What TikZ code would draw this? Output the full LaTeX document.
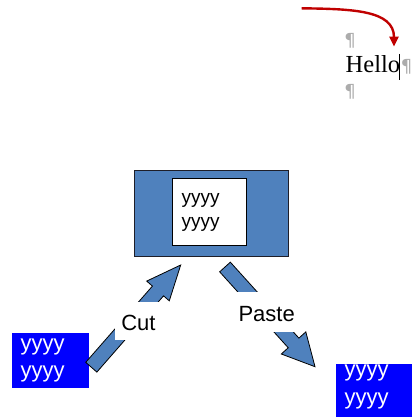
\documentclass[tikz,border=0pt]{standalone}
\usepackage{fontspec}
\setmainfont{Liberation Sans}
\newfontfamily\hellofont{Liberation Serif}
\newfontfamily\symfont{DejaVu Sans}
\usetikzlibrary{calc,arrows.meta}
\definecolor{accentblue}{HTML}{4F81BD}
\definecolor{redline}{RGB}{192,0,0}
\definecolor{markgray}{RGB}{172,172,172}
\definecolor{frameline}{RGB}{30,30,40}
% #1 name, #2 tail, #3 tip, #4 shaft half width, #5 head half width, #6 head length
\newcommand\blkarrow[6]{%
  \coordinate (#1c) at ($(#3)!#6!(#2)$);
  \draw[blockarrow] ($(#2)!#4!90:(#3)$) -- ($(#1c)!#4!90:(#3)$) -- ($(#1c)!#5!90:(#3)$)
    -- (#3) -- ($(#1c)!#5!-90:(#3)$) -- ($(#1c)!#4!-90:(#3)$) -- ($(#2)!#4!-90:(#3)$) -- cycle;
}
\tikzset{
  blockarrow/.style={fill=accentblue, draw=black, line width=0.8pt, line join=miter},
  clipbox/.style={fill=blue, draw=none, inner sep=0pt, anchor=north west},
  boxtext/.style={anchor=north west, inner sep=0pt, align=left},
  lbl/.style={anchor=base, fill=white, inner ysep=0pt, inner xsep=6pt, text depth=10pt,
    font=\fontsize{22}{26}\selectfont},
  pilcrow/.style={inner sep=0pt, text=markgray, font=\symfont\fontsize{18}{20}\selectfont},
  redarrow/.style={draw=redline, line width=2.4pt, -{Triangle[length=10pt,width=9pt]}},
}
\begin{document}
\begin{tikzpicture}[x=1pt,y=-1pt]
\useasboundingbox (0,0) rectangle (412,417);

% top: word editor
\coordinate (redstart) at (301.7,8.3);
\coordinate (redend) at (394,46.7);
\draw[redarrow] (redstart) .. controls (352,9) and (394,10) .. (redend);
\node[pilcrow] (p1) at (350,41) {¶};
\node[anchor=base west, inner sep=0pt, font=\hellofont\fontsize{24.5}{28}\selectfont] (hello) at (345.5,72.7) {Hello};
\coordinate (curtop) at (399,54);
\coordinate (curbot) at (399,80);
\draw[line width=0.9pt] (curtop) -- (curbot);
\node[pilcrow] (p2) at (406.5,66.5) {¶};
\node[pilcrow] (p3) at (350,91.5) {¶};

% clipboard
\node[fill=accentblue, draw=frameline, line width=1.2pt, inner sep=0pt, anchor=north west,
  minimum width=154pt, minimum height=86pt] (clipboard) at (134,170) {};
\node[fill=white, draw=black, line width=0.9pt, inner sep=0pt, anchor=north west,
  minimum width=74pt, minimum height=67pt] (clipitem) at (172,178) {};
\node[boxtext, font=\fontsize{19}{24}\selectfont] (cliptext) at (181.5,193.3) {yyyy\\yyyy};

% source and target
\node[clipbox, minimum width=77pt, minimum height=55pt] (source) at (12,333) {};
\node[boxtext, text=white, font=\fontsize{22}{27.7}\selectfont] (sourcetext) at (20.5,338.3) {yyyy\\yyyy};
\node[clipbox, minimum width=76pt, minimum height=53pt] (target) at (336,364) {};
\node[boxtext, text=white, font=\fontsize{22}{28}\selectfont] (targettext) at (344.5,365) {yyyy\\yyyy};

% block arrows
\coordinate (cuttail) at (91.3,367.2);
\coordinate (cuttip) at (180.7,265);
\blkarrow{cut}{cuttail}{cuttip}{7.4pt}{15pt}{34.5pt}
\coordinate (pastetail) at (225,267);
\coordinate (pastetip) at (315,366.7);
\blkarrow{paste}{pastetail}{pastetip}{7.2pt}{16.5pt}{32pt}

% labels
\node[lbl, text height=27.7pt] (cutlabel) at (138.4,330) {Cut};
\node[lbl, text height=30pt] (pastelabel) at (266.7,321.7) {Paste};
\end{tikzpicture}
\end{document}
